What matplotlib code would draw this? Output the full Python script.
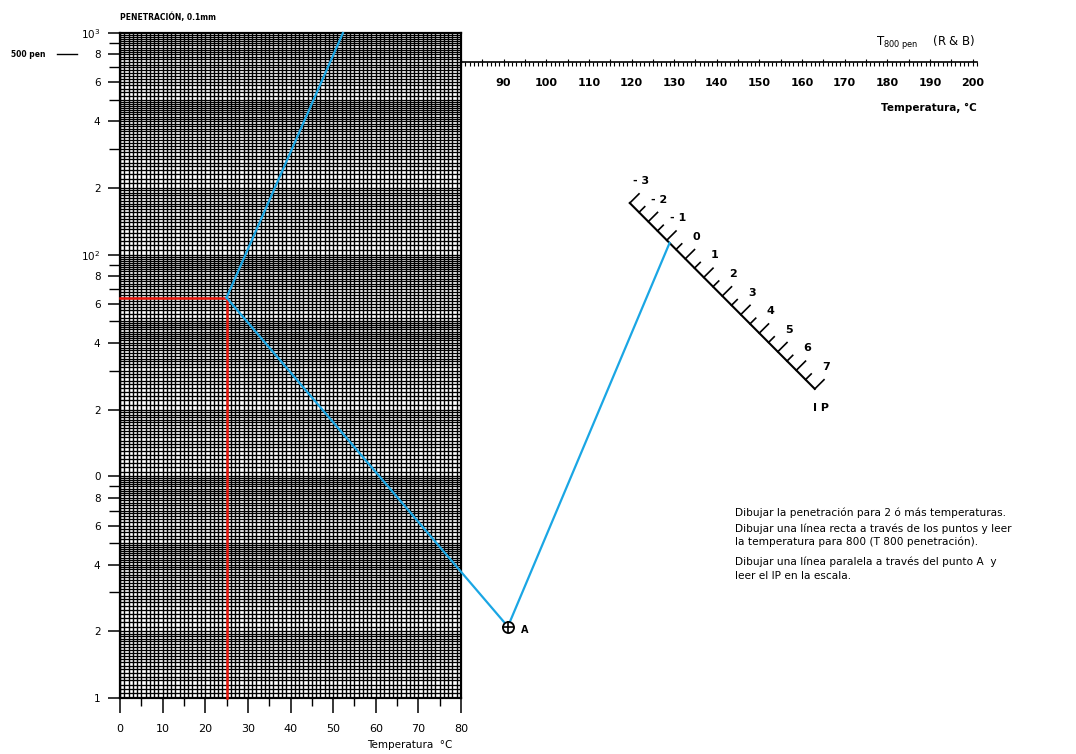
import numpy as np
import matplotlib.pyplot as plt
from matplotlib.ticker import FixedLocator, FixedFormatter, NullFormatter

# --- Values ---
temp_ticks = [0, 10, 20, 30, 40, 50, 60, 70, 80]
temp_minor = [5, 15, 25, 35, 45, 55, 65, 75]
pen_ticks = [1, 2, 4, 6, 8, 10, 20, 40, 60, 80, 100, 200, 400, 600, 800, 1000]
pen_labels = ['1', '2', '4', '6', '8', '0', '2', '4', '6', '8', r'10$^2$',
              '2', '4', '6', '8', r'10$^3$']
pen_minor = [3, 5, 7, 9, 30, 50, 70, 90, 300, 500, 700, 900]

t800_ticks = [90, 100, 110, 120, 130, 140, 150, 160, 170, 180, 190, 200]
ip_values = [-3, -2, -1, 0, 1, 2, 3, 4, 5, 6, 7]

# measured penetration at 25 C and the drawn construction
test_temp = 25
test_pen = 64
upper_temp = 52.3      # blue line leaves the grid at 1000 pen
upper_pen = 1000
point_a = (91.0, 2.1)  # pole "A"
ip_read = -0.85        # where the parallel hits the IP scale

# IP scale ends (temperature, penetration) in chart coordinates
ip_lo_end = (119.6, 171.0)
ip_hi_end = (163.0, 24.8)
t800_level = 740

instructions = [
    "Dibujar la penetración para 2 ó más temperaturas.",
    "Dibujar una línea recta a través de los puntos y leer",
    "la temperatura para 800 (T 800 penetración).",
    "Dibujar una línea paralela a través del punto A  y",
    "leer el IP en la escala.",
]
instr_offsets = [0, 16, 29, 49, 63]

BLUE = '#1aa6e4'
RED = '#e8160c'

fig = plt.figure(figsize=(10.76, 7.54), dpi=100)
ax = fig.add_axes([120 / 1076, 56 / 754, 341 / 1076, 665 / 754])
ax.set_xlim(0, 80)
ax.set_yscale('log')
ax.set_ylim(1, 1000)

# --- dense graph paper ---
ax.vlines(np.arange(0, 81, 1), 1, 1000, color='k', lw=1.0, zorder=1)
hl = []
for dec in [1, 10, 100]:
    hl += list(dec * np.arange(1, 2, 0.05)) + list(dec * np.arange(2, 5, 0.1)) + list(dec * np.arange(5, 10, 0.2))
ax.hlines(hl, 0, 80, color='k', lw=0.95, zorder=1)
for s in ax.spines.values():
    s.set_linewidth(1.6)

ax.xaxis.set_major_locator(FixedLocator(temp_ticks))
ax.xaxis.set_minor_locator(FixedLocator(temp_minor))
ax.xaxis.set_minor_formatter(NullFormatter())
ax.yaxis.set_major_locator(FixedLocator(pen_ticks))
ax.yaxis.set_major_formatter(FixedFormatter(pen_labels))
ax.yaxis.set_minor_locator(FixedLocator(pen_minor))
ax.yaxis.set_minor_formatter(NullFormatter())
ax.tick_params(axis='x', which='major', direction='out', length=11, width=1.1, labelsize=8, pad=8)
ax.tick_params(axis='x', which='minor', direction='out', length=6, width=1.0)
ax.tick_params(axis='y', which='major', direction='out', length=9, width=1.1, labelsize=7.5, pad=5)
ax.tick_params(axis='y', which='minor', direction='out', length=8, width=1.0)

ax.text(68, -0.07, "Temperatura  °C", transform=ax.get_xaxis_transform(),
        ha='center', va='center', fontsize=7.5)
ax.text(0, 1.024, "PENETRACIÓN, 0.1mm", transform=ax.transAxes,
        ha='left', va='center', fontsize=5.5, fontweight='bold')
ax.text(-0.32, 800, "500 pen", transform=ax.get_yaxis_transform(),
        ha='left', va='center', fontsize=5.5, fontweight='bold')
ax.plot([-0.185, -0.125], [800, 800], transform=ax.get_yaxis_transform(),
        color='k', lw=1.0, clip_on=False)

# --- construction lines ---
ax.plot([0, test_temp, test_temp], [test_pen, test_pen, 1], color=RED, lw=1.8, zorder=3, clip_on=False)
ax.plot([test_temp, upper_temp], [test_pen, upper_pen], color=BLUE, lw=1.6, zorder=3, clip_on=False)
ax.plot([test_temp, point_a[0]], [test_pen, point_a[1]], color=BLUE, lw=1.6, zorder=3, clip_on=False)


def ip_point(v):
    f = (v - ip_values[0]) / (ip_values[-1] - ip_values[0])
    x = ip_lo_end[0] + f * (ip_hi_end[0] - ip_lo_end[0])
    ly = np.log10(ip_lo_end[1]) + f * (np.log10(ip_hi_end[1]) - np.log10(ip_lo_end[1]))
    return x, 10 ** ly


def note(txt, xy, dx, dy, **kw):
    ax.annotate(txt, xy, xytext=(dx, dy), textcoords='offset pixels',
                annotation_clip=False, va='center', **kw)


hit = ip_point(ip_read)
ax.plot([point_a[0], hit[0]], [point_a[1], hit[1]], color=BLUE, lw=1.6, zorder=3, clip_on=False)

# point A
ax.plot(*point_a, marker='o', ms=8, mfc='white', mec='k', mew=1.3, zorder=4, clip_on=False)
ax.plot(*point_a, marker='+', ms=8, mec='k', mew=1.2, zorder=5, clip_on=False)
note("A", point_a, 17, -3, ha='center', fontsize=7, fontweight='bold')

# --- T 800 pen scale ---
ax.plot([80, 201], [t800_level, t800_level], color='k', lw=1.2, clip_on=False)
small = np.arange(80, 202, 1)
ax.plot(small, [t800_level] * len(small), ls='none', marker=3, ms=3, mew=0.8,
        color='k', clip_on=False)
fives = np.arange(80, 202, 5)
ax.plot(fives, [t800_level] * len(fives), ls='none', marker=2, ms=2, mew=0.8,
        color='k', clip_on=False)
for t in t800_ticks:
    note(str(t), (t, t800_level), 0, -21, ha='center', fontsize=8, fontweight='bold')
ax.text(200.6, 900, r"T$_{\rm 800\ pen}$    (R & B)", ha='right', va='center', fontsize=8.5)
ax.text(201.0, 458, "Temperatura, °C", ha='right', va='center', fontsize=7.5, fontweight='bold')

# --- IP scale ---
p0 = ax.transData.transform(ip_point(ip_values[0]))
p1 = ax.transData.transform(ip_point(ip_values[-1]))
u = (p1 - p0) / np.hypot(*(p1 - p0))
nrm = np.array([-u[1], u[0]])
ax.plot([ip_point(ip_values[0])[0], ip_point(ip_values[-1])[0]],
        [ip_point(ip_values[0])[1], ip_point(ip_values[-1])[1]],
        color='k', lw=1.5, clip_on=False)
inv = ax.transData.inverted()
for v in np.arange(ip_values[0], ip_values[-1] + 0.01, 0.5):
    base = ax.transData.transform(ip_point(v))
    length = 13 if float(v).is_integer() else 8
    tip = inv.transform(base + nrm * length)
    b = ip_point(v)
    ax.plot([b[0], tip[0]], [b[1], tip[1]], color='k', lw=1.2, clip_on=False)
for v in ip_values:
    note(str(v).replace('-', '- '), ip_point(v), 11, 22, ha='center', fontsize=8, fontweight='bold')
note("I P", ip_point(ip_values[-1]), 6, -19, ha='center', fontsize=8, fontweight='bold')

# --- instructions ---
for line, off in zip(instructions, instr_offsets):
    note(line, (144.3, 6.83), 0, -off, ha='left', fontsize=7.6)

fig.savefig("out.png", dpi=100)
